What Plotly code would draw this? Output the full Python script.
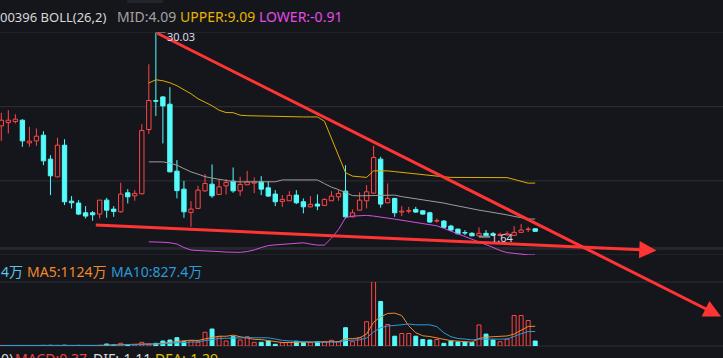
import plotly.graph_objects as go
import pandas as pd

# ---------------- data ----------------
opens = [17.04, 17.51, 17.65, 17.83, 14.68, 14.96, 15.75, 12.42, 9.96, 14.36,
         6.58, 6.31, 4.96, 4.96, 4.78, 6.72, 5.47, 5.10, 7.74, 7.32,
         7.60, 16.54, 20.57, 21.07, 20.06, 10.75, 8.25, 5.01, 5.57, 8.01,
         8.94, 7.51, 8.71, 9.36, 8.01, 8.85, 9.08, 9.26, 8.43, 7.56,
         6.54, 6.63, 7.42, 6.49, 5.79, 6.17, 5.99, 6.63, 7.18, 7.97,
         4.40, 5.33, 6.63, 7.69, 12.42, 6.35, 6.96, 5.06, 5.19, 5.43,
         5.24, 4.96, 3.81, 3.81, 3.11, 2.69, 2.21, 2.10, 1.76, 2.10,
         2.05, 1.80, 1.90, 1.82, 2.24, 2.63, 2.74]
highs = [18.85, 19.22, 18.67, 17.97, 16.90, 16.68, 16.31, 12.97, 15.38, 15.19,
         7.28, 6.72, 5.89, 5.19, 6.72, 7.04, 5.89, 9.13, 8.25, 8.11,
         17.28, 25.61, 30.03, 21.21, 22.42, 12.28, 9.40, 6.58, 8.71, 10.33,
         11.68, 9.64, 9.64, 11.26, 9.96, 10.79, 9.88, 10.06, 9.36, 8.11,
         7.42, 7.97, 8.11, 6.96, 7.28, 7.51, 6.96, 7.97, 8.11, 11.58,
         5.43, 7.83, 8.81, 14.29, 12.74, 9.04, 7.04, 5.89, 5.79, 5.79,
         5.33, 5.10, 4.18, 3.94, 3.29, 2.72, 2.56, 2.28, 2.93, 2.56,
         2.30, 2.20, 2.40, 3.11, 3.39, 3.01, 2.79]
lows = [14.96, 15.99, 17.38, 14.13, 14.13, 14.26, 11.58, 7.42, 9.88, 6.03,
        5.57, 4.64, 4.18, 3.85, 4.18, 4.26, 4.40, 4.96, 6.26, 6.63,
        7.51, 15.93, 18.43, 14.60, 10.61, 6.96, 4.26, 3.01, 5.47, 7.88,
        7.04, 7.42, 7.51, 7.74, 7.32, 8.81, 7.69, 7.42, 7.18, 5.89,
        5.79, 6.60, 6.17, 4.88, 5.71, 5.33, 5.89, 6.60, 6.63, 4.18,
        4.32, 5.30, 5.57, 7.63, 5.68, 6.26, 4.40, 4.50, 4.88, 4.96,
        4.68, 3.57, 3.57, 2.83, 2.38, 2.00, 1.86, 1.70, 1.64, 1.68,
        1.72, 1.70, 1.75, 1.82, 2.24, 2.28, 2.38]
closes = [17.83, 17.83, 17.97, 14.96, 14.92, 15.61, 12.18, 10.10, 14.36, 6.49,
          6.35, 4.78, 4.50, 4.68, 6.72, 5.33, 5.15, 7.56, 7.18, 7.65,
          16.40, 20.57, 20.47, 19.82, 10.65, 8.04, 5.10, 5.47, 8.11, 9.04,
          7.32, 8.57, 9.18, 8.01, 8.90, 9.26, 9.26, 8.25, 7.28, 6.49,
          6.82, 7.38, 6.35, 5.79, 6.13, 5.89, 6.82, 7.28, 7.65, 4.40,
          4.96, 6.72, 7.88, 12.65, 6.17, 6.96, 4.96, 5.19, 5.26, 5.06,
          4.78, 3.67, 3.88, 2.93, 2.56, 2.04, 2.14, 1.76, 2.10, 1.76,
          1.85, 1.95, 2.05, 2.24, 2.56, 2.65, 2.38]
volumes = [30, 25, 20, 30, 20, 20, 35, 40, 35, 45, 30, 35, 30, 25, 40,
           114, 57, 154, 57, 68, 211, 97, 154, 285, 342, 473, 245, 302, 211, 781,
           969, 530, 285, 530, 342, 530, 211, 211, 285, 97, 188, 211, 270, 188, 188,
           245, 245, 325, 245, 1043, 245, 473, 1385, 3665, 2537, 1226, 559, 713, 713, 559,
           371, 342, 371, 154, 285, 228, 228, 200, 1200, 680, 340, 245, 399, 1739, 1739,
           1454, 285]

boll_start = 21
boll_upper = [23.01, 23.46, 23.32, 23.04, 22.63, 22.07, 21.51, 20.82, 20.33, 19.85,
              19.22, 18.90, 18.88, 18.53, 18.46, 18.43, 18.43, 18.43, 18.32, 18.29,
              18.29, 18.29, 18.29, 18.29, 18.29, 17.69, 15.33, 12.97, 10.54, 10.06,
              9.96, 9.88, 10.79, 10.79, 10.79, 10.68, 10.57, 10.47, 10.38, 10.29,
              10.13, 9.99, 9.96, 9.88, 9.88, 9.88, 9.88, 9.88, 9.88, 9.88,
              9.88, 9.85, 9.60, 9.29, 9.08, 9.09]
boll_mid = [12.04, 12.04, 12.04, 11.86, 11.58, 11.10, 10.65, 10.33, 9.99, 9.78,
            9.60, 9.43, 9.30, 9.25, 9.25, 9.27, 9.27, 9.27, 9.27, 9.53,
            9.53, 9.53, 9.53, 9.53, 9.53, 9.01, 8.53, 8.18, 7.74, 7.35,
            7.32, 7.32, 7.42, 7.42, 7.42, 7.42, 7.21, 7.07, 6.93, 6.82,
            6.65, 6.49, 6.31, 6.10, 5.89, 5.71, 5.50, 5.33, 5.17, 5.03,
            4.85, 4.67, 4.46, 4.25, 4.10, 4.09]
boll_lower = [0.93, 0.92, 0.86, 0.79, 0.61, 0.13, -0.22, -0.29, -0.32, -0.32,
              -0.43, -0.50, -0.54, -0.54, -0.43, -0.22, 0.13, 0.40, 0.50, 0.57,
              0.68, 0.79, 0.79, 0.61, 0.47, 0.47, 1.44, 2.63, 4.29, 4.50,
              4.54, 4.60, 4.50, 4.40, 4.22, 4.08, 3.92, 3.76, 3.57, 3.49,
              3.32, 3.15, 2.79, 2.42, 2.00, 1.65, 1.31, 0.89, 0.51, 0.15,
              -0.29, -0.57, -0.68, -0.81, -0.89, -0.91]

price_max, price_min = 30.03, -0.91
grid_levels = [30.03, 19.72, 9.40, -0.91]
high_label, high_idx = "30.03", 22
low_label, low_idx = "1.64", 68
# user-drawn trend arrows: (tail x, tail price, tip x, tip price)
trend_lines = [(22, 30.03, 102.45, -9.46), (13.24, 3.26, 93.27, -0.28)]

# (text, colour, left pixel, font size)
title_parts = [("00396 BOLL(26,2)", "#d8d8d8", -2, 13), ("MID:4.09", "#a3a3a3", 115, 14),
               ("UPPER:9.09", "#e3b400", 178, 14), ("LOWER:-0.91", "#e64be8", 257, 14)]
vol_parts = [("4万", "#58c4ee", -1, 14), ("MA5:1124万", "#f0892a", 25, 14),
             ("MA10:827.4万", "#2a9ad8", 109, 14)]
macd_parts = [("0)", "#d8d8d8", -1, 14), ("MACD:0.37", "#e84545", 13, 14),
              ("DIF:-1.11", "#d8d8d8", 91, 14), ("DEA:-1.29", "#e0c000", 153, 14)]

# ---------------- styling ----------------
W, H = 723, 358
BG = "#15161c"
GRID = "#2e2f35"
RED = "#ff4646"
CYAN = "#54fbfb"
FONT = "Noto Sans, Noto Sans CJK SC, sans-serif"

n = len(opens)
idx = list(range(n))
up = [c >= o for o, c in zip(opens, closes)]
boll_x = list(range(boll_start, boll_start + len(boll_upper)))

fig = go.Figure()

# wicks (outside the bodies)
for flag, col in ((True, RED), (False, CYAN)):
    xs, ys = [], []
    for i in idx:
        if up[i] != flag:
            continue
        top, bot = max(opens[i], closes[i]), min(opens[i], closes[i])
        xs += [i, i, None, i, i, None]
        ys += [highs[i], top, None, bot, lows[i], None]
    fig.add_trace(go.Scatter(x=xs, y=ys, mode="lines", line=dict(color=col, width=1),
                             hoverinfo="skip", showlegend=False))

# bodies
bottoms = [min(o, c) for o, c in zip(opens, closes)]
heights = [max(abs(c - o), 0.06) for o, c in zip(opens, closes)]
fig.add_trace(go.Bar(x=idx, y=heights, base=bottoms, width=0.62,
                     marker=dict(color=[BG if u else CYAN for u in up],
                                 line=dict(color=[RED if u else CYAN for u in up], width=1)),
                     hoverinfo="skip", showlegend=False))

# Bollinger
for vals, col in ((boll_upper, "#e0ae00"), (boll_mid, "#9c9c9c"), (boll_lower, "#d24fe2")):
    fig.add_trace(go.Scatter(x=boll_x, y=vals, mode="lines", line=dict(color=col, width=1),
                             hoverinfo="skip", showlegend=False))

# volume
fig.add_trace(go.Bar(x=idx, y=volumes, width=0.56, yaxis="y2",
                     marker=dict(color=[BG if u else CYAN for u in up],
                                 line=dict(color=[RED if u else CYAN for u in up], width=1)),
                     hoverinfo="skip", showlegend=False))
vol_s = pd.Series(volumes, dtype=float)
for win, col in ((5, "#f0892a"), (10, "#2a9ad8")):
    fig.add_trace(go.Scatter(x=idx, y=vol_s.rolling(win, min_periods=1).mean(), yaxis="y2",
                             mode="lines", line=dict(color=col, width=1),
                             hoverinfo="skip", showlegend=False))

def py(px):  # paper y from pixel row
    return 1 - px / H

shapes = []
for g in grid_levels:
    shapes.append(dict(type="line", xref="paper", yref="y", x0=0, x1=1, y0=g, y1=g,
                       line=dict(color=GRID, width=1), layer="below"))
shapes.append(dict(type="line", xref="paper", yref="y", x0=0, x1=1, y0=0, y1=0,
                   line=dict(color="#26272d", width=3), layer="below"))
for p in (282, 346):
    shapes.append(dict(type="line", xref="paper", yref="paper", x0=0, x1=1, y0=py(p), y1=py(p),
                       line=dict(color=GRID, width=1), layer="below"))
shapes.append(dict(type="rect", xref="paper", yref="paper", x0=127 / W, x1=163 / W,
                   y0=py(3), y1=1, line=dict(width=0), fillcolor="#24252b", layer="below"))
# low / high marker ticks
shapes.append(dict(type="line", xref="x", yref="y", x0=low_idx, x1=low_idx + 1.6,
                   y0=lows[low_idx], y1=lows[low_idx], line=dict(color="#8a8a8a", width=2)))
shapes.append(dict(type="line", xref="x", yref="y", x0=high_idx, x1=high_idx + 1.4,
                   y0=highs[high_idx], y1=highs[high_idx], line=dict(color="#b0b0b0", width=1)))

ann = []
for tx, ty, hx, hy in trend_lines:
    ann.append(dict(x=hx, y=hy, xref="x", yref="y", ax=tx, ay=ty, axref="x", ayref="y",
                    text="", showarrow=True, arrowhead=2, arrowsize=1.15, arrowwidth=3,
                    arrowcolor="#ff3434", standoff=0))
ann.append(dict(x=high_idx, y=highs[high_idx], xref="x", yref="y", text=high_label,
                showarrow=False, xanchor="left", yanchor="middle", xshift=9, yshift=-4,
                font=dict(family=FONT, size=11, color="#d6dcea")))
ann.append(dict(x=low_idx, y=lows[low_idx], xref="x", yref="y", text=low_label,
                showarrow=False, xanchor="left", yanchor="middle", xshift=10, yshift=-1,
                font=dict(family=FONT, size=11, color="#d6dcea")))
for parts, yc in ((title_parts, 17), (vol_parts, 271), (macd_parts, 358.3)):
    for txt, col, x, fs in parts:
        ann.append(dict(x=x / W, y=py(yc), xref="paper", yref="paper", text=txt,
                        showarrow=False, xanchor="left", yanchor="middle",
                        font=dict(family=FONT, size=fs, color=col)))

fig.update_layout(
    width=W, height=H, margin=dict(l=0, r=0, t=0, b=0, pad=0, autoexpand=False),
    paper_bgcolor=BG, plot_bgcolor=BG, barmode="overlay", showlegend=False,
    xaxis=dict(range=[(0 - 1.3) / 7.025, (W - 1.3) / 7.025], visible=False, fixedrange=True),
    yaxis=dict(domain=[py(255), py(32.5)], range=[price_min, price_max], visible=False),
    yaxis2=dict(domain=[py(346), py(282)], range=[0, 3650], visible=False, anchor="x"),
    shapes=shapes, annotations=ann,
)

fig.write_html("out.html", config={"displayModeBar": False},
               post_script="document.body.style.margin='0';document.body.style.overflow='hidden';document.body.style.background='" + BG + "';")
